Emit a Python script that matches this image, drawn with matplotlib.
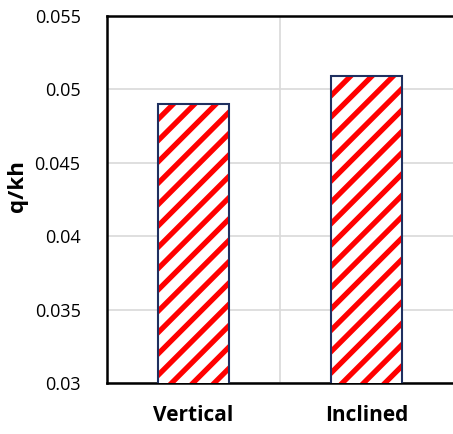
import matplotlib
matplotlib.use('Agg')
import matplotlib.pyplot as plt

categories = ['Vertical', 'Inclined']
values = [0.0490, 0.0509]
y_ticks = [0.03, 0.035, 0.04, 0.045, 0.05, 0.055]
y_labels = ['0.03', '0.035', '0.04', '0.045', '0.05', '0.055']

# higher dpi so the hatch stripes come out a bit wider apart; sizes scaled back
DPI = 128
s = 100 / DPI

plt.rcParams['font.family'] = ['Open Sans', 'DejaVu Sans']
plt.rcParams['hatch.linewidth'] = 3.8 * s

fig = plt.figure(figsize=(453 / DPI, 434 / DPI), dpi=DPI)
ax = fig.add_axes([107/453, 1 - 383/434, 346/453, 367/434])

x = range(len(categories))
# red stripes, then a navy outline on top
ax.bar(x, values, width=0.41, color='white', edgecolor='#ff0000',
       linewidth=0, hatch='//', zorder=3)
ax.bar(x, values, width=0.41, fill=False, edgecolor='#1f3060',
       linewidth=1.5 * s, zorder=4)

ax.set_xlim(-0.5, 1.5)
ax.set_ylim(0.03, 0.055)
ax.set_yticks(y_ticks)
ax.set_yticklabels(y_labels, fontsize=13 * s)
ax.set_xticks(list(x))
ax.set_xticklabels(categories, fontsize=15 * s, fontweight='bold')
ax.set_xticks([0.5], minor=True)
ax.tick_params(axis='both', which='both', length=0)
ax.tick_params(axis='y', pad=19 * s)
ax.tick_params(axis='x', pad=16 * s)

ax.grid(axis='y', color='#d9d9d9', linewidth=1.2 * s, zorder=0)
ax.grid(axis='x', which='minor', color='#d9d9d9', linewidth=1.2 * s, zorder=0)

for sp in ['left', 'bottom', 'top']:
    ax.spines[sp].set_linewidth(1.8 * s)
    ax.spines[sp].set_color('black')
ax.spines['right'].set_visible(False)

ax.set_ylabel('q/kh', fontsize=16 * s, fontweight='bold', labelpad=5 * s)
ax.yaxis.label.set_y(0.537)

fig.savefig('out.png', dpi=DPI)
